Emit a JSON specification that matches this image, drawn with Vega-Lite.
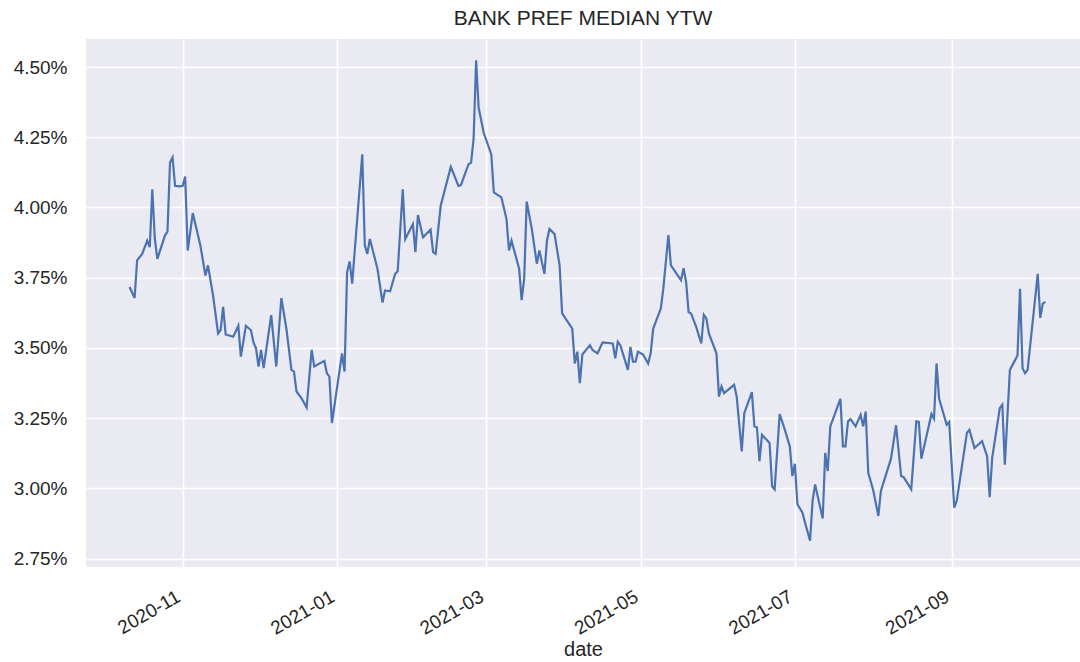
{
  "$schema": "https://vega.github.io/schema/vega-lite/v6.json",
  "width": 994,
  "height": 528,
  "autosize": {"type": "none"},
  "padding": {"left": 86, "top": 39, "right": 0, "bottom": 95},
  "background": "white",
  "title": {"text": "BANK PREF MEDIAN YTW", "fontSize": 21, "fontWeight": "normal", "font": "Liberation Sans", "color": "#262626", "offset": 10},
  "config": {
    "view": {"fill": "#EAEAF2", "stroke": null},
    "axis": {"domain": false, "ticks": false, "tickSize": 0, "grid": true, "gridColor": "#FFFFFF", "gridWidth": 1.6, "labelFont": "Liberation Sans", "labelFontSize": 19, "labelColor": "#262626", "titleFont": "Liberation Sans", "titleFontSize": 20, "titleFontWeight": "normal", "titleColor": "#262626"}
  },
  "data": {"values": [
    {"date": "2020-10-11", "ytw": 3.717},
    {"date": "2020-10-13", "ytw": 3.678},
    {"date": "2020-10-14", "ytw": 3.812},
    {"date": "2020-10-16", "ytw": 3.835},
    {"date": "2020-10-18", "ytw": 3.882},
    {"date": "2020-10-19", "ytw": 3.859},
    {"date": "2020-10-20", "ytw": 4.065},
    {"date": "2020-10-21", "ytw": 3.888},
    {"date": "2020-10-22", "ytw": 3.817},
    {"date": "2020-10-25", "ytw": 3.900},
    {"date": "2020-10-26", "ytw": 3.914},
    {"date": "2020-10-27", "ytw": 4.160},
    {"date": "2020-10-28", "ytw": 4.178},
    {"date": "2020-10-29", "ytw": 4.077},
    {"date": "2020-10-31", "ytw": 4.075},
    {"date": "2020-11-01", "ytw": 4.077},
    {"date": "2020-11-02", "ytw": 4.110},
    {"date": "2020-11-03", "ytw": 3.847},
    {"date": "2020-11-05", "ytw": 3.980},
    {"date": "2020-11-08", "ytw": 3.865},
    {"date": "2020-11-10", "ytw": 3.758},
    {"date": "2020-11-11", "ytw": 3.794},
    {"date": "2020-11-13", "ytw": 3.688},
    {"date": "2020-11-15", "ytw": 3.552},
    {"date": "2020-11-16", "ytw": 3.564},
    {"date": "2020-11-17", "ytw": 3.646},
    {"date": "2020-11-18", "ytw": 3.548},
    {"date": "2020-11-21", "ytw": 3.540},
    {"date": "2020-11-23", "ytw": 3.579},
    {"date": "2020-11-24", "ytw": 3.469},
    {"date": "2020-11-26", "ytw": 3.579},
    {"date": "2020-11-28", "ytw": 3.563},
    {"date": "2020-11-29", "ytw": 3.520},
    {"date": "2020-11-30", "ytw": 3.499},
    {"date": "2020-12-01", "ytw": 3.434},
    {"date": "2020-12-02", "ytw": 3.493},
    {"date": "2020-12-03", "ytw": 3.428},
    {"date": "2020-12-06", "ytw": 3.617},
    {"date": "2020-12-08", "ytw": 3.434},
    {"date": "2020-12-10", "ytw": 3.678},
    {"date": "2020-12-12", "ytw": 3.569},
    {"date": "2020-12-14", "ytw": 3.422},
    {"date": "2020-12-15", "ytw": 3.416},
    {"date": "2020-12-16", "ytw": 3.345},
    {"date": "2020-12-18", "ytw": 3.321},
    {"date": "2020-12-20", "ytw": 3.288},
    {"date": "2020-12-22", "ytw": 3.493},
    {"date": "2020-12-23", "ytw": 3.434},
    {"date": "2020-12-27", "ytw": 3.454},
    {"date": "2020-12-28", "ytw": 3.410},
    {"date": "2020-12-29", "ytw": 3.398},
    {"date": "2020-12-30", "ytw": 3.233},
    {"date": "2021-01-01", "ytw": 3.357},
    {"date": "2021-01-03", "ytw": 3.481},
    {"date": "2021-01-04", "ytw": 3.416},
    {"date": "2021-01-05", "ytw": 3.770},
    {"date": "2021-01-06", "ytw": 3.808},
    {"date": "2021-01-07", "ytw": 3.729},
    {"date": "2021-01-09", "ytw": 3.959},
    {"date": "2021-01-11", "ytw": 4.189},
    {"date": "2021-01-12", "ytw": 3.865},
    {"date": "2021-01-13", "ytw": 3.835},
    {"date": "2021-01-14", "ytw": 3.888},
    {"date": "2021-01-17", "ytw": 3.782},
    {"date": "2021-01-19", "ytw": 3.662},
    {"date": "2021-01-20", "ytw": 3.705},
    {"date": "2021-01-22", "ytw": 3.702},
    {"date": "2021-01-24", "ytw": 3.764},
    {"date": "2021-01-25", "ytw": 3.773},
    {"date": "2021-01-27", "ytw": 4.065},
    {"date": "2021-01-28", "ytw": 3.888},
    {"date": "2021-01-31", "ytw": 3.941},
    {"date": "2021-02-01", "ytw": 3.841},
    {"date": "2021-02-02", "ytw": 3.973},
    {"date": "2021-02-04", "ytw": 3.894},
    {"date": "2021-02-07", "ytw": 3.921},
    {"date": "2021-02-08", "ytw": 3.841},
    {"date": "2021-02-09", "ytw": 3.835},
    {"date": "2021-02-11", "ytw": 4.006},
    {"date": "2021-02-15", "ytw": 4.145},
    {"date": "2021-02-18", "ytw": 4.077},
    {"date": "2021-02-19", "ytw": 4.080},
    {"date": "2021-02-22", "ytw": 4.154},
    {"date": "2021-02-23", "ytw": 4.160},
    {"date": "2021-02-24", "ytw": 4.243},
    {"date": "2021-02-25", "ytw": 4.524},
    {"date": "2021-02-26", "ytw": 4.355},
    {"date": "2021-02-28", "ytw": 4.266},
    {"date": "2021-03-03", "ytw": 4.189},
    {"date": "2021-03-04", "ytw": 4.054},
    {"date": "2021-03-07", "ytw": 4.036},
    {"date": "2021-03-09", "ytw": 3.959},
    {"date": "2021-03-10", "ytw": 3.847},
    {"date": "2021-03-11", "ytw": 3.882},
    {"date": "2021-03-14", "ytw": 3.782},
    {"date": "2021-03-15", "ytw": 3.670},
    {"date": "2021-03-16", "ytw": 3.747},
    {"date": "2021-03-17", "ytw": 4.021},
    {"date": "2021-03-19", "ytw": 3.924},
    {"date": "2021-03-21", "ytw": 3.800},
    {"date": "2021-03-22", "ytw": 3.847},
    {"date": "2021-03-24", "ytw": 3.764},
    {"date": "2021-03-25", "ytw": 3.882},
    {"date": "2021-03-26", "ytw": 3.924},
    {"date": "2021-03-28", "ytw": 3.906},
    {"date": "2021-03-30", "ytw": 3.794},
    {"date": "2021-03-31", "ytw": 3.623},
    {"date": "2021-04-04", "ytw": 3.569},
    {"date": "2021-04-05", "ytw": 3.445},
    {"date": "2021-04-06", "ytw": 3.487},
    {"date": "2021-04-07", "ytw": 3.375},
    {"date": "2021-04-08", "ytw": 3.477},
    {"date": "2021-04-11", "ytw": 3.510},
    {"date": "2021-04-12", "ytw": 3.493},
    {"date": "2021-04-14", "ytw": 3.481},
    {"date": "2021-04-16", "ytw": 3.520},
    {"date": "2021-04-20", "ytw": 3.516},
    {"date": "2021-04-21", "ytw": 3.463},
    {"date": "2021-04-22", "ytw": 3.522},
    {"date": "2021-04-23", "ytw": 3.510},
    {"date": "2021-04-26", "ytw": 3.422},
    {"date": "2021-04-27", "ytw": 3.504},
    {"date": "2021-04-28", "ytw": 3.451},
    {"date": "2021-04-29", "ytw": 3.451},
    {"date": "2021-04-30", "ytw": 3.487},
    {"date": "2021-05-02", "ytw": 3.477},
    {"date": "2021-05-04", "ytw": 3.445},
    {"date": "2021-05-05", "ytw": 3.481},
    {"date": "2021-05-06", "ytw": 3.569},
    {"date": "2021-05-07", "ytw": 3.593},
    {"date": "2021-05-09", "ytw": 3.640},
    {"date": "2021-05-10", "ytw": 3.711},
    {"date": "2021-05-12", "ytw": 3.902},
    {"date": "2021-05-13", "ytw": 3.794},
    {"date": "2021-05-17", "ytw": 3.741},
    {"date": "2021-05-18", "ytw": 3.784},
    {"date": "2021-05-19", "ytw": 3.735},
    {"date": "2021-05-20", "ytw": 3.628},
    {"date": "2021-05-21", "ytw": 3.622},
    {"date": "2021-05-23", "ytw": 3.575},
    {"date": "2021-05-25", "ytw": 3.516},
    {"date": "2021-05-26", "ytw": 3.618},
    {"date": "2021-05-27", "ytw": 3.605},
    {"date": "2021-05-28", "ytw": 3.552},
    {"date": "2021-05-31", "ytw": 3.481},
    {"date": "2021-06-01", "ytw": 3.327},
    {"date": "2021-06-02", "ytw": 3.363},
    {"date": "2021-06-03", "ytw": 3.339},
    {"date": "2021-06-07", "ytw": 3.369},
    {"date": "2021-06-08", "ytw": 3.327},
    {"date": "2021-06-10", "ytw": 3.132},
    {"date": "2021-06-11", "ytw": 3.268},
    {"date": "2021-06-14", "ytw": 3.343},
    {"date": "2021-06-15", "ytw": 3.221},
    {"date": "2021-06-16", "ytw": 3.217},
    {"date": "2021-06-17", "ytw": 3.097},
    {"date": "2021-06-18", "ytw": 3.191},
    {"date": "2021-06-21", "ytw": 3.162},
    {"date": "2021-06-22", "ytw": 3.008},
    {"date": "2021-06-23", "ytw": 2.997},
    {"date": "2021-06-25", "ytw": 3.265},
    {"date": "2021-06-27", "ytw": 3.210},
    {"date": "2021-06-29", "ytw": 3.150},
    {"date": "2021-06-30", "ytw": 3.044},
    {"date": "2021-07-01", "ytw": 3.088},
    {"date": "2021-07-02", "ytw": 2.944},
    {"date": "2021-07-04", "ytw": 2.914},
    {"date": "2021-07-05", "ytw": 2.879},
    {"date": "2021-07-07", "ytw": 2.814},
    {"date": "2021-07-08", "ytw": 2.956},
    {"date": "2021-07-09", "ytw": 3.014},
    {"date": "2021-07-12", "ytw": 2.893},
    {"date": "2021-07-13", "ytw": 3.127},
    {"date": "2021-07-14", "ytw": 3.062},
    {"date": "2021-07-15", "ytw": 3.221},
    {"date": "2021-07-19", "ytw": 3.319},
    {"date": "2021-07-20", "ytw": 3.150},
    {"date": "2021-07-21", "ytw": 3.150},
    {"date": "2021-07-22", "ytw": 3.239},
    {"date": "2021-07-23", "ytw": 3.247},
    {"date": "2021-07-25", "ytw": 3.221},
    {"date": "2021-07-27", "ytw": 3.262},
    {"date": "2021-07-28", "ytw": 3.221},
    {"date": "2021-07-29", "ytw": 3.274},
    {"date": "2021-07-30", "ytw": 3.056},
    {"date": "2021-08-01", "ytw": 2.993},
    {"date": "2021-08-03", "ytw": 2.902},
    {"date": "2021-08-04", "ytw": 2.991},
    {"date": "2021-08-08", "ytw": 3.106},
    {"date": "2021-08-10", "ytw": 3.225},
    {"date": "2021-08-12", "ytw": 3.044},
    {"date": "2021-08-13", "ytw": 3.040},
    {"date": "2021-08-16", "ytw": 2.997},
    {"date": "2021-08-18", "ytw": 3.239},
    {"date": "2021-08-19", "ytw": 3.237},
    {"date": "2021-08-20", "ytw": 3.106},
    {"date": "2021-08-24", "ytw": 3.265},
    {"date": "2021-08-25", "ytw": 3.248},
    {"date": "2021-08-26", "ytw": 3.445},
    {"date": "2021-08-27", "ytw": 3.321},
    {"date": "2021-08-30", "ytw": 3.227},
    {"date": "2021-08-31", "ytw": 3.237},
    {"date": "2021-09-02", "ytw": 2.932},
    {"date": "2021-09-03", "ytw": 2.956},
    {"date": "2021-09-07", "ytw": 3.198},
    {"date": "2021-09-08", "ytw": 3.209},
    {"date": "2021-09-10", "ytw": 3.144},
    {"date": "2021-09-13", "ytw": 3.168},
    {"date": "2021-09-15", "ytw": 3.115},
    {"date": "2021-09-16", "ytw": 2.969},
    {"date": "2021-09-17", "ytw": 3.109},
    {"date": "2021-09-20", "ytw": 3.286},
    {"date": "2021-09-21", "ytw": 3.298},
    {"date": "2021-09-22", "ytw": 3.085},
    {"date": "2021-09-24", "ytw": 3.422},
    {"date": "2021-09-27", "ytw": 3.473},
    {"date": "2021-09-28", "ytw": 3.711},
    {"date": "2021-09-29", "ytw": 3.428},
    {"date": "2021-09-30", "ytw": 3.410},
    {"date": "2021-10-01", "ytw": 3.422},
    {"date": "2021-10-05", "ytw": 3.764},
    {"date": "2021-10-06", "ytw": 3.607},
    {"date": "2021-10-07", "ytw": 3.658},
    {"date": "2021-10-08", "ytw": 3.664}
  ]},
  "mark": {"type": "line", "color": "#4C72B0", "strokeWidth": 2.2, "clip": true},
  "encoding": {
    "x": {
      "field": "date", "type": "temporal", "title": "date",
      "scale": {"type": "utc", "domain": [{"year": 2020, "month": "sep", "date": 23, "hours": 19, "utc": true}, {"year": 2021, "month": "oct", "date": 21, "hours": 17, "utc": true}]},
      "axis": {
        "values": [
          {"year": 2020, "month": "nov", "date": 1, "utc": true},
          {"year": 2021, "month": "jan", "date": 1, "utc": true},
          {"year": 2021, "month": "mar", "date": 1, "utc": true},
          {"year": 2021, "month": "may", "date": 1, "utc": true},
          {"year": 2021, "month": "jul", "date": 1, "utc": true},
          {"year": 2021, "month": "sep", "date": 1, "utc": true}
        ],
        "format": "%Y-%m", "labelAngle": -30, "labelAlign": "right", "labelBaseline": "top", "labelPadding": 20, "labelOffset": -9, "titlePadding": 1
      }
    },
    "y": {
      "field": "ytw", "type": "quantitative", "title": null,
      "scale": {"domain": [2.7205, 4.5997], "nice": false, "zero": false},
      "axis": {"values": [2.75, 3.0, 3.25, 3.5, 3.75, 4.0, 4.25, 4.5], "labelExpr": "format(datum.value, '.2f') + '%'", "labelPadding": 19}
    }
  }
}
